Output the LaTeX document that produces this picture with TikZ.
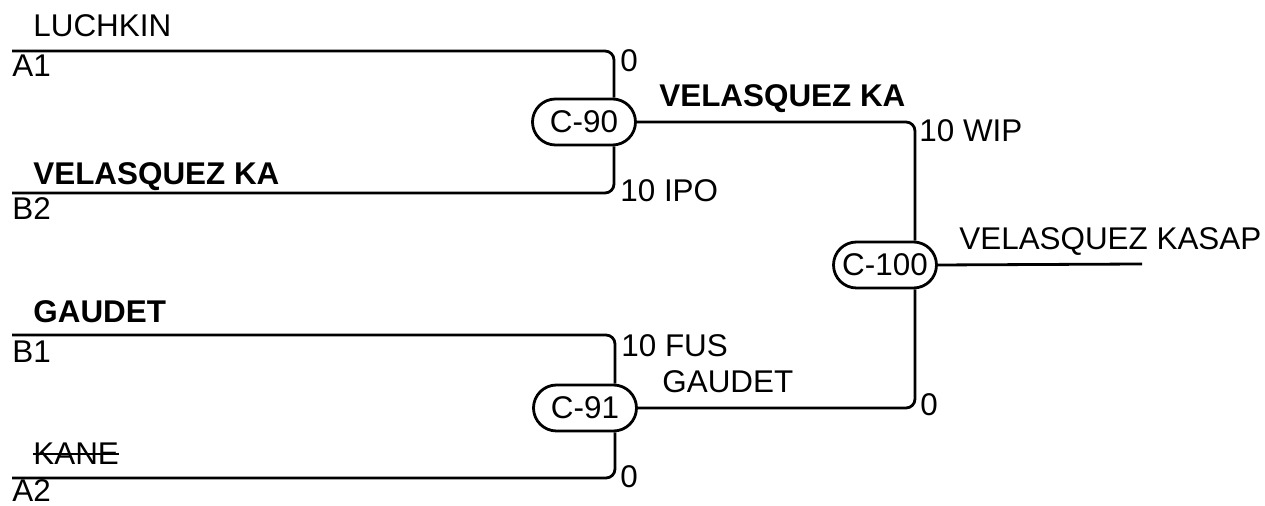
\documentclass[tikz,border=0pt]{standalone}
\usepackage{fontspec}
\setmainfont{Liberation Sans}
\usetikzlibrary{shapes.misc}

\begin{document}
\begin{tikzpicture}[
    x=0.5pt, y=-0.5pt,
    font=\fontsize{15.7}{18}\selectfont,
    court/.style={rounded rectangle, draw, line width=1.4pt, minimum width=51.5pt, minimum height=23pt, inner sep=0pt},
    wire/.style={line width=1.4pt, rounded corners=4.5pt},
    entrant/.style={anchor=base west, inner sep=0pt},
    winner/.style={entrant, font=\fontsize{15.7}{18}\selectfont\bfseries}
]
\useasboundingbox (0,0) rectangle (1265,506);

% Semifinal 1
\begin{scope}
    \node[court] (c90) at (584,122) {C-90};

    \coordinate (a1) at (12,51);
    \coordinate (b2) at (12,193);
    \draw[wire] (a1) -| ([xshift=15pt]c90.north);
    \draw[wire] (b2) -| ([xshift=15pt]c90.south);

    \node[entrant] (luchkin) at (33,37) {LUCHKIN};
    \node[entrant] (seedA1) at (12,77) {A1};
    \node[winner] (velasquezL) at (33,185) {VELASQUEZ KA};
    \node[entrant] (seedB2) at (12,220) {B2};

    \node[entrant] (scoreA1) at (620,72) {0};
    \node[entrant] (scoreB2) at (620,202) {10 IPO};
\end{scope}

% Semifinal 2
\begin{scope}
    \node[court] (c91) at (585,408) {C-91};

    \coordinate (b1) at (12,335);
    \coordinate (a2) at (12,478);
    \draw[wire] (b1) -| ([xshift=15pt]c91.north);
    \draw[wire] (a2) -| ([xshift=15pt]c91.south);

    \node[winner] (gaudetL) at (33,323) {GAUDET};
    \node[entrant] (seedB1) at (12,363) {B1};
    \node[entrant] (kane) at (33,465) {KANE};
    \draw[line width=0.9pt] ([yshift=5.5pt]kane.base west) -- ([yshift=5.5pt]kane.base east);
    \node[entrant] (seedA2) at (12,502) {A2};

    \node[entrant] (scoreB1) at (621,357) {10 FUS};
    \node[entrant] (scoreA2) at (620,488) {0};
\end{scope}

% Final
\begin{scope}
    \node[court] (c100) at (885,265) {C-100};

    \draw[wire] (c90.east) -| ([xshift=15pt]c100.north);
    \draw[wire] (c91.east) -| ([xshift=15pt]c100.south);

    \coordinate (champ) at (1142,264);
    \draw[wire] (c100.east) -- (champ);

    \node[winner] (velasquezR) at (659,107) {VELASQUEZ KA};
    \node[entrant] (gaudetR) at (662,393) {GAUDET};
    \node[entrant] (scoreTop) at (919,142) {10 WIP};
    \node[entrant] (scoreBot) at (920,416) {0};
    \node[entrant] (kasap) at (959,250) {VELASQUEZ KASAP};
\end{scope}

\end{tikzpicture}
\end{document}
